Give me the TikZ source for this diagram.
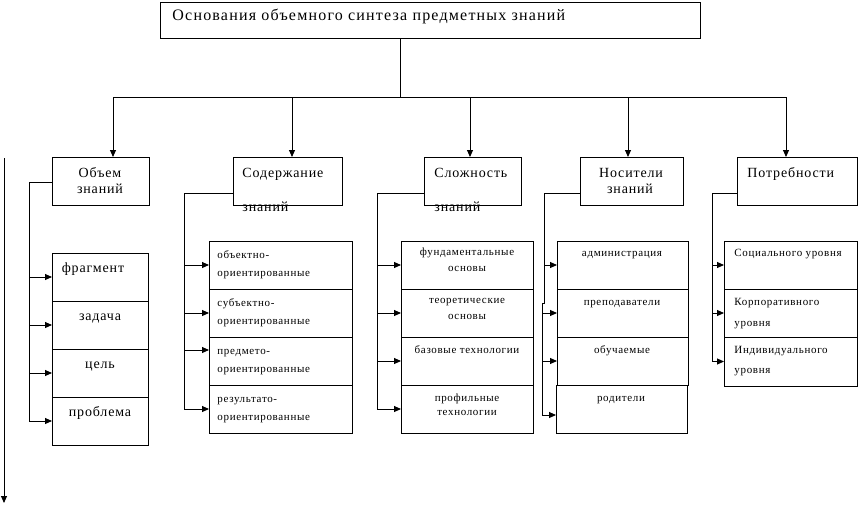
\documentclass[tikz,border=0pt]{standalone}
\usepackage{fontspec}
\setmainfont{Liberation Serif}
\newfontfamily\spacedfont[LetterSpace=6]{Liberation Serif}
\newfontfamily\titlefont[LetterSpace=7.5]{Liberation Serif}
\usetikzlibrary{arrows.meta}
\newcommand{\ftitle}{\fontsize{16}{19}\titlefont}
\newcommand{\fmid}{\fontsize{14}{17}\spacedfont}
\newcommand{\fsmall}{\fontsize{11}{13}\spacedfont}
\begin{document}
\begin{tikzpicture}[x=1pt,y=-1pt,line width=0.9pt,
  box/.style={draw,rectangle,inner sep=0pt,outer sep=0pt,anchor=north west},
  arr/.style={-{Triangle[length=7pt,width=6pt]}},
  lab/.style={inner sep=0pt,anchor=base},
  labw/.style={inner sep=0pt,anchor=base west}]
\useasboundingbox (0,0) rectangle (858,506);

% title
\node[box,minimum width=540pt,minimum height=36pt] (title) at (160,2) {};
\node[labw,font=\ftitle] (tt) at (172,20) {Основания объемного синтеза предметных знаний};

% level 2 boxes
\node[box,minimum width=97pt,minimum height=48pt] (obj) at (52,157) {};
\node[box,minimum width=109pt,minimum height=48pt] (sod) at (233,157) {};
\node[box,minimum width=97pt,minimum height=48pt] (slo) at (424,157) {};
\node[box,minimum width=103pt,minimum height=48pt] (nos) at (580,157) {};
\node[box,minimum width=120pt,minimum height=48pt] (pot) at (737,157) {};

% hub connectors
\coordinate (hub) at (400,97);
\coordinate (h1) at (113,97);
\coordinate (h2) at (292,97);
\coordinate (h3) at (470,97);
\coordinate (h4) at (628,97);
\coordinate (h5) at (786,97);
\draw (hub |- title.south) -- (hub);
\draw (h1) -- (h5);
\draw[arr] (h1) -- (h1 |- obj.north);
\draw[arr] (h2) -- (h2 |- sod.north);
\draw[arr] (h3) -- (h3 |- slo.north);
\draw[arr] (h4) -- (h4 |- nos.north);
\draw[arr] (h5) -- (h5 |- pot.north);

% cells
\foreach \n/\y in {o1/253,o2/301,o3/349,o4/397}
  \node[box,minimum width=96pt,minimum height=48pt] (\n) at (52,\y) {};
\foreach \n/\y in {s1/241,s2/289,s3/337,s4/385}
  \node[box,minimum width=143pt,minimum height=48pt] (\n) at (209,\y) {};
\foreach \n/\y in {c1/241,c2/289,c3/337,c4/385}
  \node[box,minimum width=132pt,minimum height=48pt] (\n) at (401,\y) {};
\foreach \n/\y in {n1/241,n2/289,n3/337}
  \node[box,minimum width=131pt,minimum height=48pt] (\n) at (557,\y) {};
\node[box,minimum width=131pt,minimum height=48pt] (n4) at (556,385) {};
\node[box,minimum width=133pt,minimum height=48pt] (p1) at (724,241) {};
\node[box,minimum width=133pt,minimum height=48pt] (p2) at (724,289) {};
\node[box,minimum width=133pt,minimum height=49pt] (p3) at (724,337) {};

% brackets
\coordinate (ob) at (29,182);
\draw (obj.west |- ob) -- (ob) -- (ob |- o4.west);
\foreach \c in {o1,o2,o3,o4} \draw[arr] (ob |- \c.west) -- (\c.west);

\coordinate (sb) at (184,193);
\coordinate (s3a) at ([yshift=11pt]s3.west);
\draw (sod.west |- sb) -- (sb) -- (sb |- s4.west);
\foreach \c in {s1,s2,s4} \draw[arr] (sb |- \c.west) -- (\c.west);
\draw[arr] (sb |- s3a) -- (s3a);

\coordinate (cb) at (377,193);
\draw (slo.west |- cb) -- (cb) -- (cb |- c4.west);
\foreach \c in {c1,c2,c3,c4} \draw[arr] (cb |- \c.west) -- (\c.west);

\coordinate (nb) at (544,193);
\coordinate (nb2) at (542,303);
\coordinate (n4a) at ([yshift=-6pt]n4.west);
\draw (nos.west |- nb) -- (nb) -- (nb |- nb2) -- (nb2) -- (nb2 |- n4a);
\draw[arr] (nb |- n1.west) -- (n1.west);
\foreach \c in {n2,n3} \draw[arr] (nb2 |- \c.west) -- (\c.west);
\draw[arr] (nb2 |- n4a) -- (n4a);

\coordinate (pb) at (712,193);
\draw (pot.west |- pb) -- (pb) -- (pb |- p3.west);
\foreach \c in {p1,p2,p3} \draw[arr] (pb |- \c.west) -- (\c.west);

% left long arrow
\coordinate (la) at (4,158);
\coordinate (lb) at (4,503);
\draw[arr] (la) -- (lb);

% level 2 texts
\node[lab,font=\fmid] (objt1) at (100,177) {Объем};
\node[lab,font=\fmid] (objt2) at (100,193) {знаний};
\node[labw,font=\fmid] (sodt1) at (242,177) {Содержание};
\node[labw,font=\fmid] (sodt2) at (242,211) {знаний};
\node[labw,font=\fmid] (slot1) at (434,177) {Сложность};
\node[labw,font=\fmid] (slot2) at (434,211) {знаний};
\node[lab,font=\fmid] (nost1) at (631,177) {Носители};
\node[lab,font=\fmid] (nost2) at (630,193) {знаний};
\node[labw,font=\fmid] (pott1) at (747,177) {Потребности};

% Объем cells
\node[lab,font=\fmid] (ot1) at (93,272) {фрагмент};
\node[lab,font=\fmid] (ot2) at (100,320) {задача};
\node[lab,font=\fmid] (ot3) at (100,368) {цель};
\node[lab,font=\fmid] (ot4) at (100,416) {проблема};

% Содержание cells
\node[labw,font=\fsmall] (st1a) at (217,258) {объектно-};
\node[labw,font=\fsmall] (st1b) at (217,276) {ориентированные};
\node[labw,font=\fsmall] (st2a) at (217,306) {субъектно-};
\node[labw,font=\fsmall] (st2b) at (217,324) {ориентированные};
\node[labw,font=\fsmall] (st3a) at (217,354) {предмето-};
\node[labw,font=\fsmall] (st3b) at (217,372) {ориентированные};
\node[labw,font=\fsmall] (st4a) at (217,402) {результато-};
\node[labw,font=\fsmall] (st4b) at (217,420) {ориентированные};

% Сложность cells
\node[lab,font=\fsmall] (ct1a) at (467,255) {фундаментальные};
\node[lab,font=\fsmall] (ct1b) at (467,271) {основы};
\node[lab,font=\fsmall] (ct2a) at (467,303) {теоретические};
\node[lab,font=\fsmall] (ct2b) at (467,319) {основы};
\node[lab,font=\fsmall] (ct3) at (467,353) {базовые технологии};
\node[lab,font=\fsmall] (ct4a) at (467,401) {профильные};
\node[lab,font=\fsmall] (ct4b) at (467,415) {технологии};

% Носители cells
\node[lab,font=\fsmall] (nt1) at (622,256) {администрация};
\node[lab,font=\fsmall] (nt2) at (622,305) {преподаватели};
\node[lab,font=\fsmall] (nt3) at (622,353) {обучаемые};
\node[lab,font=\fsmall] (nt4) at (621,401) {родители};

% Потребности cells
\node[labw,font=\fsmall] (pt1) at (734,256) {Социального уровня};
\node[labw,font=\fsmall] (pt2a) at (734,305) {Корпоративного};
\node[labw,font=\fsmall] (pt2b) at (734,326) {уровня};
\node[labw,font=\fsmall] (pt3a) at (734,353) {Индивидуального};
\node[labw,font=\fsmall] (pt3b) at (734,373) {уровня};
\end{tikzpicture}
\end{document}
